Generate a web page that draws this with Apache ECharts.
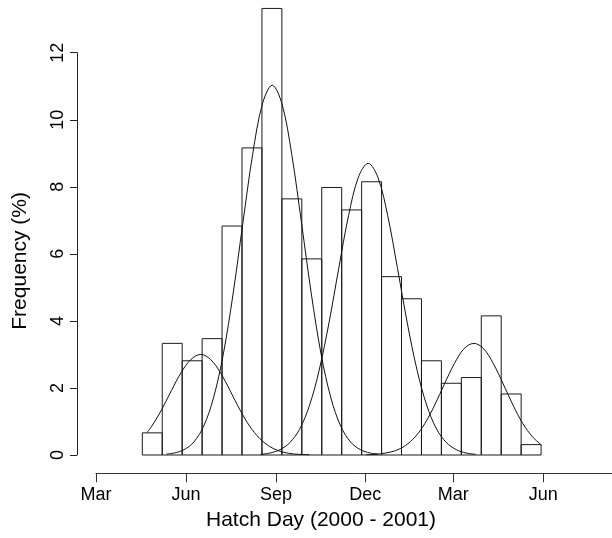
<!DOCTYPE html>
<html>
<head>
<meta charset="utf-8">
<script src="https://cdn.jsdelivr.net/npm/echarts@6/dist/echarts.min.js"></script>
<style>
html, body { margin: 0; padding: 0; background: #ffffff; }
#chart { width: 612px; height: 538px; }
</style>
</head>
<body>
<div id="chart"></div>
<script>
// x values are days counted from 1 March 2000.
const monthTickDays = [0, 92, 184, 275, 365, 457, 549];
const monthTickLabels = ['Mar', 'Jun', 'Sep', 'Dec', 'Mar', 'Jun', 'Sep'];

// Histogram of hatch days: first break, bin width (days) and frequency (%) per bin.
const binStartDay = 47.3;
const binWidthDays = 20.37;
const binFrequency = [0.66, 3.33, 2.81, 3.47, 6.83, 9.16, 13.32, 7.64, 5.85, 7.98,
                      7.31, 8.15, 5.32, 4.66, 2.81, 2.14, 2.31, 4.15, 1.82, 0.31];

const yTickValues = [0, 2, 4, 6, 8, 10, 12];

// Fitted normal components for the four hatching cohorts, [day, frequency %].
const cohort1 = [[52, 0.67], [57, 0.86], [67, 1.35], [77, 1.92], [87, 2.46], [97, 2.85],
                 [107, 3.00], [117, 2.85], [127, 2.46], [137, 1.92], [147, 1.35], [157, 0.86],
                 [167, 0.50], [177, 0.26], [187, 0.12], [197, 0.05], [207, 0.02], [218, 0.01]];
const cohort2 = [[72, 0.03], [80, 0.06], [90, 0.16], [100, 0.39], [110, 0.86], [120, 1.70],
                 [130, 3.00], [140, 4.80], [150, 6.91], [160, 8.96], [170, 10.47], [180, 11.03],
                 [190, 10.47], [200, 8.96], [210, 6.91], [220, 4.80], [230, 3.00], [240, 1.70],
                 [250, 0.86], [260, 0.39], [270, 0.16], [280, 0.06], [288, 0.03]];
const cohort3 = [[168, 0.02], [178, 0.06], [188, 0.16], [198, 0.37], [208, 0.77], [218, 1.47],
                 [228, 2.53], [238, 3.94], [248, 5.57], [258, 7.14], [268, 8.28], [278, 8.70],
                 [288, 8.28], [298, 7.14], [308, 5.57], [318, 3.94], [328, 2.53], [338, 1.47],
                 [348, 0.77], [358, 0.37], [368, 0.16], [378, 0.06], [388, 0.02]];
const cohort4 = [[276, 0.01], [286, 0.02], [296, 0.06], [306, 0.13], [316, 0.28], [326, 0.54],
                 [336, 0.94], [346, 1.49], [356, 2.12], [366, 2.72], [376, 3.17], [386, 3.33],
                 [396, 3.17], [406, 2.72], [416, 2.12], [426, 1.49], [436, 0.94], [446, 0.54],
                 [455, 0.30]];

const FONT = "'Liberation Sans', Arial, Helvetica, sans-serif";
const INK = '#000000';

// [left edge, right edge, frequency] for each bin
const binData = binFrequency.map((v, i) => [
  binStartDay + i * binWidthDays,
  binStartDay + (i + 1) * binWidthDays,
  v
]);

function cohortSeries(name, points) {
  return {
    name: name,
    type: 'line',
    data: points,
    smooth: 0.35,
    showSymbol: false,
    symbol: 'none',
    clip: false,
    silent: true,
    z: 5,
    lineStyle: { color: '#111111', width: 1 }
  };
}

const chart = echarts.init(document.getElementById('chart'), null, { renderer: 'canvas' });

chart.setOption({
  animation: false,
  backgroundColor: '#ffffff',
  textStyle: { fontFamily: FONT },
  title: {
    text: 'Hatch Day (2000 - 2001)',
    left: 321,
    top: 510,
    textAlign: 'center',
    padding: 0,
    textStyle: { fontFamily: FONT, fontSize: 21, fontWeight: 'normal', color: INK }
  },
  grid: {
    left: 96,
    top: 52.7,
    width: 537.4,
    height: 402.3,
    containLabel: false,
    outerBoundsMode: 'none'
  },
  xAxis: {
    type: 'value',
    min: 0,
    max: 549,
    position: 'bottom',
    offset: 18.3,
    splitLine: { show: false },
    axisLine: { show: true, onZero: false, lineStyle: { color: '#333333', width: 1 } },
    axisTick: {
      show: true,
      inside: false,
      length: 9,
      customValues: monthTickDays,
      lineStyle: { color: '#333333', width: 1 }
    },
    axisLabel: {
      show: true,
      customValues: monthTickDays,
      margin: 13,
      fontFamily: FONT,
      fontSize: 18,
      color: INK,
      showMinLabel: true,
      showMaxLabel: true,
      formatter: function (value) {
        const k = monthTickDays.indexOf(value);
        return k >= 0 ? monthTickLabels[k] : '';
      }
    }
  },
  yAxis: {
    type: 'value',
    min: 0,
    max: 12,
    interval: 2,
    position: 'left',
    offset: 19,
    name: 'Frequency (%)',
    nameLocation: 'middle',
    nameGap: 46,
    nameRotate: 90,
    nameTextStyle: { fontFamily: FONT, fontSize: 21, color: INK, padding: [0, 14, 0, 0] },
    splitLine: { show: false },
    axisLine: { show: true, onZero: false, lineStyle: { color: '#222222', width: 1 } },
    axisTick: {
      show: true,
      inside: false,
      length: 7,
      customValues: yTickValues,
      lineStyle: { color: '#222222', width: 1 }
    },
    axisLabel: {
      show: true,
      customValues: yTickValues,
      rotate: 90,
      margin: 10,
      fontFamily: FONT,
      fontSize: 18,
      color: INK
    }
  },
  series: [
    {
      name: 'Hatch day histogram',
      type: 'custom',
      clip: false,
      silent: true,
      z: 2,
      encode: { x: [0, 1], y: 2 },
      data: binData,
      renderItem: function (params, api) {
        const p0 = api.coord([api.value(0), 0]);
        const p1 = api.coord([api.value(1), api.value(2)]);
        return {
          type: 'rect',
          shape: { x: p0[0], y: p1[1], width: p1[0] - p0[0], height: p0[1] - p1[1] },
          style: { fill: 'rgba(255,255,255,0)', stroke: '#1a1a1a', lineWidth: 1 }
        };
      }
    },
    cohortSeries('Cohort 1', cohort1),
    cohortSeries('Cohort 2', cohort2),
    cohortSeries('Cohort 3', cohort3),
    cohortSeries('Cohort 4', cohort4)
  ]
});
</script>
</body>
</html>
